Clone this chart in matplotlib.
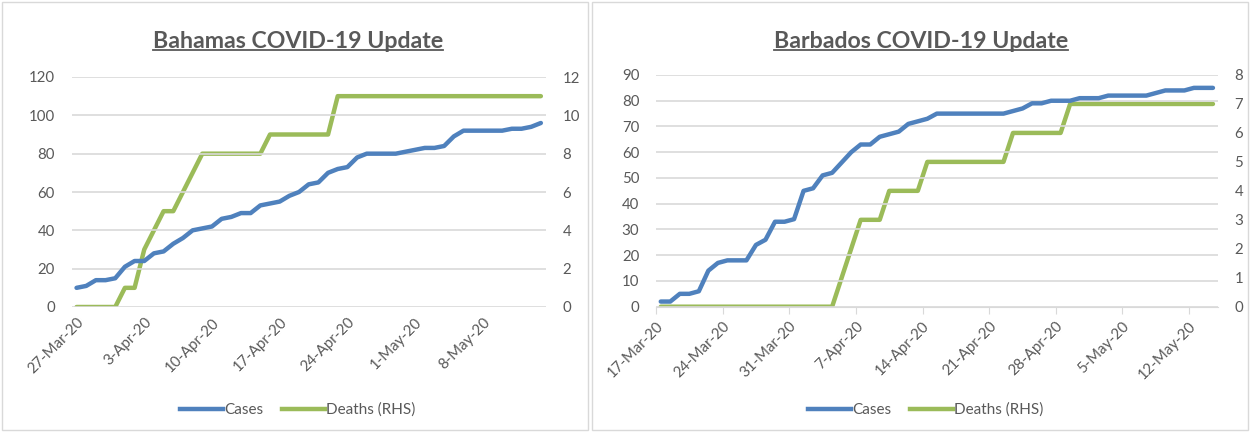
import matplotlib
matplotlib.use('Agg')
import matplotlib.pyplot as plt
from matplotlib.lines import Line2D
from matplotlib.patches import Rectangle
import pandas as pd

plt.rcParams['font.family'] = ['Lato', 'DejaVu Sans']

# Bahamas, daily from 27-Mar-20
bah_start = '2020-03-27'
bah_cases = [10, 11, 14, 14, 15, 21, 24, 24, 28, 29, 33, 36, 40, 41, 42, 46, 47, 49, 49, 53,
             54, 55, 58, 60, 64, 65, 70, 72, 73, 78, 80, 80, 80, 80, 81, 82, 83, 83, 84, 89,
             92, 92, 92, 92, 92, 93, 93, 94, 96]
bah_deaths = [0, 0, 0, 0, 0, 1, 1, 3, 4, 5, 5, 6, 7, 8, 8, 8, 8, 8, 8, 8,
              9, 9, 9, 9, 9, 9, 9, 11, 11, 11, 11, 11, 11, 11, 11, 11, 11, 11, 11, 11,
              11, 11, 11, 11, 11, 11, 11, 11, 11]

# Barbados, daily from 17-Mar-20
bar_start = '2020-03-17'
bar_cases = [2, 2, 5, 5, 6, 14, 17, 18, 18, 18, 24, 26, 33, 33, 34, 45, 46, 51, 52, 56,
             60, 63, 63, 66, 67, 68, 71, 72, 73, 75, 75, 75, 75, 75, 75, 75, 75, 76, 77, 79,
             79, 80, 80, 80, 81, 81, 81, 82, 82, 82, 82, 82, 83, 84, 84, 84, 85, 85, 85]
bar_deaths = [0, 0, 0, 0, 0, 0, 0, 0, 0, 0, 0, 0, 0, 0, 0, 0, 0, 0, 0, 1,
              2, 3, 3, 3, 4, 4, 4, 4, 5, 5, 5, 5, 5, 5, 5, 5, 5, 6, 6, 6,
              6, 6, 6, 7, 7, 7, 7, 7, 7, 7, 7, 7, 7, 7, 7, 7, 7, 7, 7]

BLUE = '#4F81BD'
GREEN = '#9BBB59'
GRAY = '#595959'
GRID = '#D9D9D9'

fig = plt.figure(figsize=(12.51, 4.32), dpi=100)
W, H = 1251, 432

def px(x0, y0, x1, y1):
    return [x0 / W, 1 - y1 / H, (x1 - x0) / W, (y1 - y0) / H]

# panel borders
fig.add_artist(Rectangle((2 / W, 2 / H), 586 / W, 428 / H, transform=fig.transFigure,
                         fill=False, ec=GRID, lw=1))
fig.add_artist(Rectangle((592 / W, 2 / H), 656 / W, 428 / H, transform=fig.transFigure,
                         fill=False, ec=GRID, lw=1))

def panel(rect, start, cases, deaths, lmax, lstep, rmax, rstep, title, tx, ticks_on, tick_first):
    dates = pd.date_range(start, periods=len(cases), freq='D')
    ax = fig.add_axes(px(*rect))
    ax2 = ax.twinx()
    ax.plot(dates, cases, color=BLUE, lw=3.2, solid_capstyle='round', zorder=3)
    ax2.plot(dates, deaths, color=GREEN, lw=3.2, solid_capstyle='round', zorder=3)
    ax.set_xlim(dates[0] - pd.Timedelta(hours=12), dates[-1] + pd.Timedelta(hours=12))
    ax.set_ylim(0, lmax)
    ax2.set_ylim(0, rmax)
    ax.set_yticks(range(0, lmax + 1, lstep))
    ax2.set_yticks(range(0, rmax + 1, rstep))
    ax.grid(axis='y', color=GRID, lw=1.2)
    ax.set_axisbelow(True)
    for a in (ax, ax2):
        for s in a.spines.values():
            s.set_visible(False)
        a.tick_params(axis='y', length=0, labelsize=10.8, labelcolor=GRAY, pad=12)
    ax.set_zorder(ax2.get_zorder() + 1)
    ax.patch.set_visible(False)
    xt = pd.date_range(tick_first, dates[-1], freq='7D')
    ax.set_xticks(xt - pd.Timedelta(hours=12) if ticks_on else xt)
    ax.set_xticklabels([f'{d.day}-{d.strftime("%b")}-{d.strftime("%y")}' for d in xt],
                       rotation=45, ha='right', rotation_mode='anchor')
    if ticks_on:
        ax.spines['bottom'].set_visible(True)
        ax.spines['bottom'].set_color(GRID)
        ax.tick_params(axis='x', length=5, color=GRID, labelsize=10.8, labelcolor=GRAY, pad=4)
    else:
        ax.tick_params(axis='x', length=0, labelsize=10.8, labelcolor=GRAY, pad=6)
    t = fig.text(tx / W, 1 - 41 / H, title, ha='center', va='center', fontsize=16.7,
                 fontweight='bold', color=GRAY)
    return ax, ax2, t

a1, b1, t1 = panel((71.7, 77, 545.7, 307), bah_start, bah_cases, bah_deaths, 120, 20, 12, 2,
                   'Bahamas COVID-19 Update', 298, False, '2020-03-27')
a2, b2, t2 = panel((656, 75, 1217.7, 306.7), bar_start, bar_cases, bar_deaths, 90, 10, 8, 1,
                   'Barbados COVID-19 Update', 921, True, '2020-03-17')

handles = [Line2D([], [], color=BLUE, lw=3.2), Line2D([], [], color=GREEN, lw=3.2)]
for cx in (298, 926):
    fig.legend(handles, ['Cases', 'Deaths (RHS)'], loc='center', ncol=2,
               bbox_to_anchor=(cx / W, 1 - 410 / H), frameon=False, fontsize=11,
               labelcolor=GRAY, handlelength=2.8, handletextpad=0.1, columnspacing=1.2)

# underline titles
fig.canvas.draw()
r = fig.canvas.get_renderer()
for t in (t1, t2):
    bb = t.get_window_extent(r).transformed(fig.transFigure.inverted())
    y = bb.y0 + 0.004
    fig.add_artist(Line2D([bb.x0, bb.x1], [y, y], transform=fig.transFigure, color=GRAY, lw=1.3))

fig.savefig('out.png', dpi=100)
